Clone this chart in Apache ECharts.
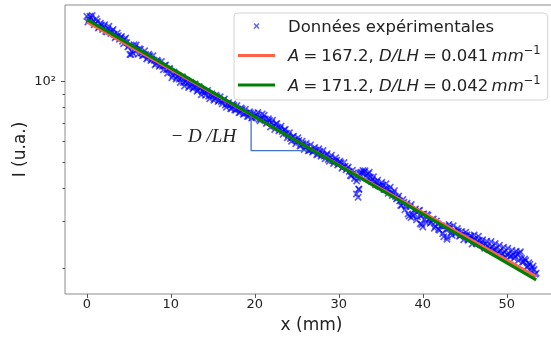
<!DOCTYPE html>
<html><head><meta charset="utf-8">
<script src="https://cdn.jsdelivr.net/npm/echarts@6/dist/echarts.min.js"></script>
<style>html,body{margin:0;padding:0;background:#fff}#c{width:551px;height:338px}</style>
</head><body><div id="c"></div>
<script>
// ---- data ----
const xMeasured = [
0,0.25,0.5,0.75, 1,1.25,1.5,1.75, 2,2.25,2.5,2.75, 3,3.25,3.5,3.75, 4,4.25,4.5,4.75,
5,5.25,5.5,5.75, 6,6.25,6.5,6.75, 7,7.25,7.5,7.75, 8,8.25,8.5,8.75, 9,9.25,9.5,9.75,
10,10.25,10.5,10.75, 11,11.25,11.5,11.75, 12,12.25,12.5,12.75, 13,13.25,13.5,13.75, 14,14.25,14.5,14.75,
15,15.25,15.5,15.75, 16,16.25,16.5,16.75, 17,17.25,17.5,17.75, 18,18.25,18.5,18.75, 19,19.25,19.5,19.75,
20,20.25,20.5,20.75, 21,21.25,21.5,21.75, 22,22.25,22.5,22.75, 23,23.25,23.5,23.75, 24,24.25,24.5,24.75,
25,25.25,25.5,25.75, 26,26.25,26.5,26.75, 27,27.25,27.5,27.75, 28,28.25,28.5,28.75, 29,29.25,29.5,29.75,
30,30.25,30.5,30.75, 31,31.25,31.5,31.75, 32,32.25,32.5,32.75, 33,33.25,33.5,33.75, 34,34.25,34.5,34.75,
35,35.25,35.5,35.75, 36,36.25,36.5,36.75, 37,37.25,37.5,37.75, 38,38.25,38.5,38.75, 39,39.25,39.5,39.75,
40,40.25,40.5,40.75, 41,41.25,41.5,41.75, 42,42.25,42.5,42.75, 43,43.25,43.5,43.75, 44,44.25,44.5,44.75,
45,45.25,45.5,45.75, 46,46.25,46.5,46.75, 47,47.25,47.5,47.75, 48,48.25,48.5,48.75, 49,49.25,49.5,49.75,
50,50.25,50.5,50.75, 51,51.25,51.5,51.75, 52,52.25,52.5,52.75, 53,53.25,53.5,
32.1,32.3,32.4,38.6,39.7,40,42.9
];
const yMeasured = [
175.7,170.9,173.5,168.7, 165.6,168.1,160.7,163.2, 160.1,154.4,158.1,153.9, 154.9,150.7,147.8,148.8, 146.0,141.9,144.1,140.2,
136.4,126.6,127.7,134.5, 131.9,132.8,128.1,125.6, 126.5,123.0,125.0,121.5, 120.3,116.9,118.8,115.5, 114.3,115.0,111.0,111.7,
108.6,105.6,107.3,104.3, 102.3,103.1,99.3,100.0, 99.0,96.2,97.8,95.1, 95.8,93.1,94.6,92.0, 91.0,91.7,88.3,89.0,
88.8,86.4,87.8,85.3, 84.4,85.0,81.9,82.5, 81.7,79.4,81.4,78.4, 79.0,76.8,78.7,75.9, 76.4,74.3,76.2,73.4,
74.6,75.0,72.4,72.9, 72.7,72.6,70.6,71.6, 70.3,68.4,69.4,67.5, 66.9,65.1,66.0,64.2, 63.0,61.3,62.2,60.6,
59.9,60.3,57.7,58.6, 56.9,57.3,55.3,55.7, 55.1,55.4,53.5,54.8, 53.7,52.7,53.1,51.2, 52.0,50.6,50.5,50.8,
49.4,49.7,48.0,48.3, 47.4,46.1,44.4,45.5, 45.0,43.4,45.3,45.6, 45.8,44.6,45.2,44.0, 43.2,42.1,42.0,40.8,
40.7,41.0,39.6,39.8, 39.4,38.3,38.2,37.2, 36.8,35.8,34.5,35.4, 34.1,32.0,34.0,31.9, 33.0,30.4,32.9,31.4,
31.9,30.5,31.8,30.4, 29.8,30.6,28.7,29.4, 27.8,28.8,26.3,28.0, 28.1,28.6,26.6,27.7, 27.4,27.6,26.6,26.8,
26.5,26.7,25.8,26.4, 25.7,25.8,25.3,25.5, 25.0,24.4,24.7,24.1, 23.8,24.1,23.5,23.8, 23.0,23.4,22.7,23.1,
22.5,22.8,22.2,22.5, 22.3,22.6,22.8,21.8, 21.2,21.4,20.4,20.7, 20.1,19.8,19.2,
38.0,36.9,39.5,31.0,29.4,28.6,26.2
];
const xMeasuredB = [
0.125,0.375,0.625,0.875, 1.125,1.375,1.625,1.875, 2.125,2.375,2.625,2.875, 3.125,3.375,3.625,3.875, 4.125,4.375,4.625,4.875,
5.125,5.375,5.625,5.875, 6.125,6.375,6.625,6.875, 7.125,7.375,7.625,7.875, 8.125,8.375,8.625,8.875, 9.125,9.375,9.625,9.875,
10.125,10.375,10.625,10.875, 11.125,11.375,11.625,11.875, 12.125,12.375,12.625,12.875, 13.125,13.375,13.625,13.875, 14.125,14.375,14.625,14.875,
15.125,15.375,15.625,15.875, 16.125,16.375,16.625,16.875, 17.125,17.375,17.625,17.875, 18.125,18.375,18.625,18.875, 19.125,19.375,19.625,19.875,
20.125,20.375,20.625,20.875, 21.125,21.375,21.625,21.875, 22.125,22.375,22.625,22.875, 23.125,23.375,23.625,23.875, 24.125,24.375,24.625,24.875,
25.125,25.375,25.625,25.875, 26.125,26.375,26.625,26.875, 27.125,27.375,27.625,27.875, 28.125,28.375,28.625,28.875, 29.125,29.375,29.625,29.875,
30.125,30.375,30.625,30.875, 31.125,31.375,31.625,31.875, 32.125,32.375,32.625,32.875, 33.125,33.375,33.625,33.875, 34.125,34.375,34.625,34.875,
35.125,35.375,35.625,35.875, 36.125,36.375,36.625,36.875, 37.125,37.375,37.625,37.875, 38.125,38.375,38.625,38.875, 39.125,39.375,39.625,39.875,
40.125,40.375,40.625,40.875, 41.125,41.375,41.625,41.875, 42.125,42.375,42.625,42.875, 43.125,43.375,43.625,43.875, 44.125,44.375,44.625,44.875,
45.125,45.375,45.625,45.875, 46.125,46.375,46.625,46.875, 47.125,47.375,47.625,47.875, 48.125,48.375,48.625,48.875, 49.125,49.375,49.625,49.875,
50.125,50.375,50.625,50.875, 51.125,51.375,51.625,51.875, 52.125,52.375,52.625,52.875, 53.125,53.375
];
const yMeasuredB = [
167.4,175.9,177.1,163.5, 172.0,158.9,165.5,156.8, 163.5,153.6,161.4,151.7, 156.8,146.1,152.1,144.2, 147.7,138.8,145.9,134.8,
126.5,129.8,137.5,137.3, 126.8,132.2,125.2,130.5, 121.6,126.7,120.1,125.1, 115.6,120.4,114.2,119.0, 110.9,115.5,107.6,112.1,
103.5,108.8,102.3,105.6, 99.3,104.4,96.3,101.3, 95.2,99.2,94.0,98.0, 92.1,95.9,89.4,93.1, 89.0,92.8,86.4,90.1,
85.3,89.0,84.4,87.9, 82.7,86.1,80.2,83.5, 79.2,82.5,78.3,81.5, 76.6,79.8,75.6,78.8, 74.1,77.2,73.1,76.2,
73.5,76.7,71.4,75.7, 74.9,69.8,72.7,67.7, 71.8,66.3,69.7,65.5, 68.2,63.6,66.3,61.7, 64.4,59.9,62.5,58.6,
61.7,57.5,59.9,55.8, 58.7,55.1,58.0,54.5, 56.7,53.3,56.1,52.6, 55.3,51.5,53.8,50.4, 53.1,49.4,51.9,48.8,
50.4,47.4,49.8,46.8, 47.9,44.6,46.6,43.4, 42.5,39.7,45.8,46.5, 46.4,43.7,45.8,42.4, 44.1,41.1,42.8,40.6,
42.0,39.5,41.5,38.2, 40.3,37.5,39.1,36.4, 37.3,34.4,36.2,33.2, 35.1,31.4,34.7,31.5, 33.4,31.2,33.0,29.2,
32.0,29.8,31.6,29.5, 30.4,28.3,30.1,28.0, 28.9,27.0,28.9,25.7, 29.2,27.2,28.9,26.9, 28.2,26.4,27.5,25.6,
27.3,25.5,26.5,24.7, 26.7,24.8,26.4,24.5, 25.6,23.8,25.3,23.5, 25.2,23.4,24.8,22.8, 24.4,22.6,24.0,22.0,
23.8,22.1,23.4,21.8, 23.2,21.4,23.1,21.1, 21.7,20.2,21.0,19.6, 20.4,19.0
];
const fitX = [0, 53.5];
const fitRed = [167.2, 18.65];
const fitGreen = [171.2, 18.10];
const triangleX = [19.56, 19.56, 26.2];
const triangleY = [73.8, 55.2, 55.2];
const xTicks = [0, 10, 20, 30, 40, 50];
const yMajorTicks = [100];
const yMinorTicks = [20, 30, 40, 50, 60, 70, 80, 90];
const seriesNames = ['Données expérimentales', 'A = 167.2, D/LH = 0.041 mm-1', 'A = 171.2, D/LH = 0.042 mm-1'];
const annotationText = '− D /LH';

// ---- chart ----
const FONT = 'DejaVu Sans';
const XPATH = 'path://M0,1.6L1.6,0L5,3.4L8.4,0L10,1.6L6.6,5L10,8.4L8.4,10L5,6.6L1.6,10L0,8.4L3.4,5Z';
const LINEPATH = 'path://M0,0L37,0L37,3L0,3Z';
const pairs = (xs, ys) => xs.map((x, i) => [x, ys[i]]);

const S = '\u2005', T = '\u2009';
const legendLabels = {};
legendLabels[seriesNames[0]] = '{n|Données expérimentales}';
legendLabels[seriesNames[1]] = '{i|A}{n|' + S + '=' + S + '167.2, }{i|D/LH}{n|' + S + '=' + S + '0.041' + T + '}{i|mm}{s|−1}';
legendLabels[seriesNames[2]] = '{i|A}{n|' + S + '=' + S + '171.2, }{i|D/LH}{n|' + S + '=' + S + '0.042' + T + '}{i|mm}{s|−1}';

const chart = echarts.init(document.getElementById('c'), null, {renderer: 'canvas'});
const yMin = 16.04, yMax = 193.8;
chart.setOption({
  animation: false,
  grid: {left: 65, top: 5, width: 493, height: 289, show: true, borderColor: '#8c8c8c', borderWidth: 1, outerBoundsMode: 'none'},
  xAxis: {
    type: 'value', min: -2.6, max: 56.1,
    axisLine: {show: false, onZero: false}, splitLine: {show: false},
    axisTick: {customValues: xTicks, length: 4, lineStyle: {color: '#555'}},
    axisLabel: {customValues: xTicks, margin: 4, fontSize: 13, color: '#222', fontFamily: FONT},
    name: 'x (mm)', nameLocation: 'middle', nameGap: 23, nameMoveOverlap: false,
    nameTextStyle: {fontSize: 17, color: '#222', fontFamily: FONT}
  },
  yAxis: [{
    type: 'log', logBase: 10, min: yMin, max: yMax, position: 'left',
    axisLine: {show: false, onZero: false}, splitLine: {show: false}, minorTick: {show: false},
    axisTick: {customValues: yMajorTicks, length: 4, lineStyle: {color: '#555'}},
    axisLabel: {customValues: yMajorTicks, formatter: () => '10²', margin: 9, fontSize: 13, color: '#222', fontFamily: FONT},
    name: 'I (u.a.)', nameLocation: 'middle', nameGap: 36, nameRotate: 90, nameMoveOverlap: false,
    nameTextStyle: {fontSize: 17, color: '#222', fontFamily: FONT}
  }, {
    type: 'log', logBase: 10, min: yMin, max: yMax, position: 'left', offset: 0,
    axisLine: {show: false, onZero: false}, splitLine: {show: false}, axisLabel: {show: false},
    axisTick: {customValues: yMinorTicks, length: 2.5, lineStyle: {color: '#555'}}
  }],
  legend: {
    left: 234, top: 13, orient: 'vertical',
    data: [{name: seriesNames[0], icon: XPATH}, {name: seriesNames[1], icon: LINEPATH}, {name: seriesNames[2], icon: LINEPATH}],
    itemWidth: 37, itemHeight: 6, itemGap: 9.5,
    padding: [6, 7, 5, 4],
    backgroundColor: 'rgba(255,255,255,0.8)', borderColor: '#d4d4d4', borderWidth: 1, borderRadius: 4,
    selectedMode: false,
    formatter: name => legendLabels[name],
    textStyle: {
      fontFamily: FONT, fontSize: 16.5, color: '#222', padding: [0, 0, 0, 8],
      rich: {
        n: {fontFamily: FONT, fontSize: 16.5, color: '#222', lineHeight: 20, verticalAlign: 'bottom'},
        i: {fontFamily: FONT, fontSize: 16.5, fontStyle: 'italic', color: '#222', lineHeight: 20, verticalAlign: 'bottom'},
        s: {fontFamily: FONT, fontSize: 11.5, color: '#222', lineHeight: 12, verticalAlign: 'top'}
      }
    }
  },
  series: [{
    type: 'line', name: 'triangle', data: pairs(triangleX, triangleY), symbol: 'none', silent: true,
    lineStyle: {color: '#4472C4', width: 1.3}, itemStyle: {color: '#4472C4'}
  }, {
    type: 'scatter', name: seriesNames[0],
    data: pairs(xMeasured, yMeasured).concat(pairs(xMeasuredB, yMeasuredB)),
    symbol: XPATH, symbolSize: 7.5, itemStyle: {color: 'rgba(0,0,255,0.8)'}
  }, {
    type: 'line', name: seriesNames[1], data: pairs(fitX, fitRed), symbol: 'none', showSymbol: false,
    lineStyle: {color: '#ff6347', width: 2.8}, itemStyle: {color: '#ff6347'}
  }, {
    type: 'line', name: seriesNames[2], data: pairs(fitX, fitGreen), symbol: 'none', showSymbol: false,
    lineStyle: {color: '#008000', width: 3.2}, itemStyle: {color: '#008000'}
  }],
  graphic: [{
    type: 'text', x: 170.5, y: 137, silent: true,
    style: {text: annotationText, font: 'italic 19px "Liberation Serif"', fill: '#222', verticalAlign: 'middle'}
  }]
});
</script></body></html>
